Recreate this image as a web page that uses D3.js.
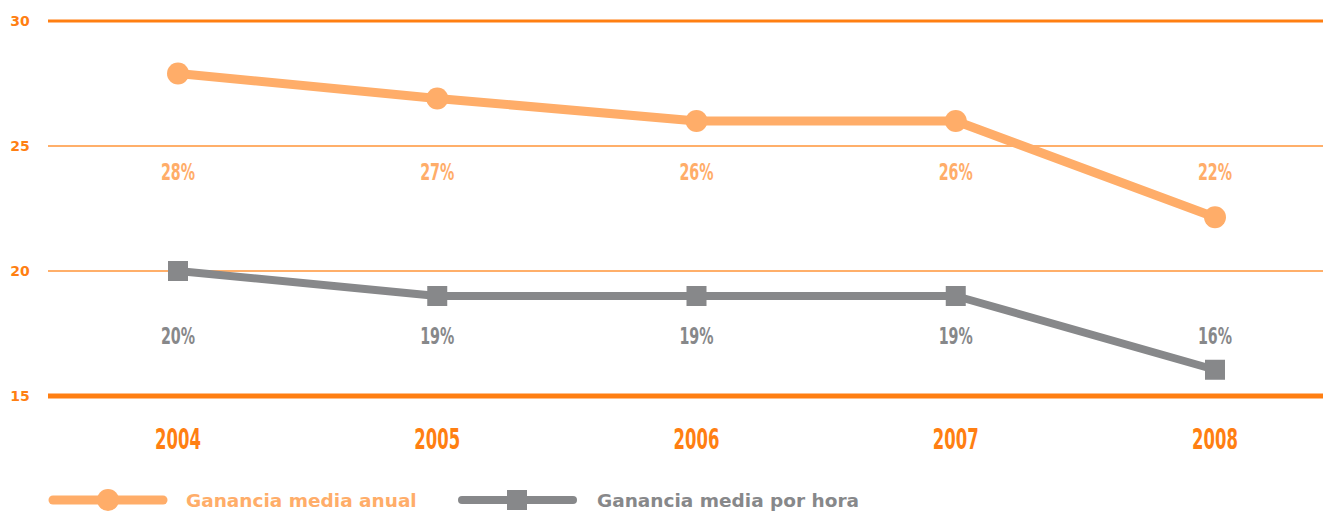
<!DOCTYPE html>
<html>
<head>
<meta charset="utf-8">
<script src="https://cdn.jsdelivr.net/npm/d3@7"></script>
<style>
  body { margin: 0; background: #fff; }
  svg { display: block; }
</style>
</head>
<body>
<div id="main"></div>
<script>
const years = ["2004", "2005", "2006", "2007", "2008"];
const anual = [27.9, 26.9, 26, 26, 22.15];
const porHora = [20, 19, 19, 19, 16.05];
const anualLabels = ["28%", "27%", "26%", "26%", "22%"];
const horaLabels = ["20%", "19%", "19%", "19%", "16%"];
const yTicks = [15, 20, 25, 30];
const seriesNames = ["Ganancia media anual", "Ganancia media por hora"];

const width = 1323, height = 513;
const orange = "#ffad69", gray = "#87888a", axisOrange = "#ff7f12";
const numFont = "'DejaVu Sans Condensed', 'DejaVu Sans', sans-serif";
const textFont = "'DejaVu Sans', sans-serif";

const svg = d3.select("#main").append("svg")
  .attr("width", width)
  .attr("height", height);

const x = d3.scalePoint().domain(years).range([178, 1215]);
const y = d3.scaleLinear().domain([15, 30]).range([396, 21]);

// condensed numbers: squeeze horizontally around anchor
function narrow(sel, sx) {
  sel.attr("transform", function() {
    var ax = +d3.select(this).attr("x"), ay = +d3.select(this).attr("y");
    return "translate(" + ax + "," + ay + ") scale(" + sx + ",1) translate(" + -ax + "," + -ay + ")";
  });
}

// gridlines
svg.selectAll("line.grid")
  .data(yTicks)
  .enter()
  .append("line")
  .attr("x1", 48).attr("x2", width)
  .attr("y1", d => y(d)).attr("y2", d => y(d))
  .style("stroke", d => d === 15 || d === 30 ? axisOrange : "#ff9538")
  .style("stroke-width", d => d === 15 ? 5 : d === 30 ? 3 : 1.5);

svg.selectAll("text.ytick")
  .data(yTicks)
  .enter()
  .append("text")
  .attr("x", 20)
  .attr("y", d => y(d) + 5)
  .style("text-anchor", "middle")
  .style("fill", axisOrange)
  .style("font-family", textFont)
  .style("font-weight", "bold")
  .style("font-size", "14px")
  .text(d => d);

// year labels
svg.selectAll("text.year")
  .data(years)
  .enter()
  .append("text")
  .attr("x", d => x(d))
  .attr("y", 449)
  .style("text-anchor", "middle")
  .style("fill", axisOrange)
  .style("font-family", numFont)
  .style("font-weight", "bold")
  .style("font-size", "27.5px")
  .text(d => d)
  .call(narrow, 0.665);

const line = d3.line().x(d => x(d.year)).y(d => y(d.v));
const anualData = years.map((yr, i) => ({ year: yr, v: anual[i], label: anualLabels[i] }));
const horaData = years.map((yr, i) => ({ year: yr, v: porHora[i], label: horaLabels[i] }));

svg.append("path")
  .datum(anualData)
  .attr("d", line)
  .style("fill", "none")
  .style("stroke", orange)
  .style("stroke-width", 9)
  .style("stroke-linejoin", "round");

svg.selectAll("circle.pt")
  .data(anualData)
  .enter()
  .append("circle")
  .attr("cx", d => x(d.year))
  .attr("cy", d => y(d.v))
  .attr("r", 11)
  .style("fill", orange);

svg.append("path")
  .datum(horaData)
  .attr("d", line)
  .style("fill", "none")
  .style("stroke", gray)
  .style("stroke-width", 8)
  .style("stroke-linejoin", "round");

svg.selectAll("rect.pt")
  .data(horaData)
  .enter()
  .append("rect")
  .attr("x", d => x(d.year) - 10)
  .attr("y", d => y(d.v) - 10)
  .attr("width", 20)
  .attr("height", 20)
  .style("fill", gray);

// value labels
svg.selectAll("text.anual")
  .data(anualData)
  .enter()
  .append("text")
  .attr("x", d => x(d.year))
  .attr("y", y(24) + 9)
  .style("text-anchor", "middle")
  .style("fill", orange)
  .style("font-family", numFont)
  .style("font-weight", "bold")
  .style("font-size", "23px")
  .text(d => d.label)
  .call(narrow, 0.69);

svg.selectAll("text.hora")
  .data(horaData)
  .enter()
  .append("text")
  .attr("x", d => x(d.year))
  .attr("y", y(17.45) + 9)
  .style("text-anchor", "middle")
  .style("fill", gray)
  .style("font-family", numFont)
  .style("font-weight", "bold")
  .style("font-size", "23px")
  .text(d => d.label)
  .call(narrow, 0.69);

// legend
var leg = svg.append("g").attr("transform", "translate(0,500)");
leg.append("line").attr("x1", 53).attr("x2", 163).attr("y1", 0).attr("y2", 0)
  .style("stroke", orange).style("stroke-width", 9).style("stroke-linecap", "round");
leg.append("circle").attr("cx", 108).attr("cy", 0).attr("r", 11).style("fill", orange);
leg.append("text").attr("x", 186).attr("y", 7)
  .style("fill", orange).style("font-family", textFont).style("font-weight", "bold")
  .style("font-size", "18.5px").text(seriesNames[0]);

leg.append("line").attr("x1", 462).attr("x2", 573).attr("y1", 0).attr("y2", 0)
  .style("stroke", gray).style("stroke-width", 8).style("stroke-linecap", "round");
leg.append("rect").attr("x", 507).attr("y", -10).attr("width", 20).attr("height", 20).style("fill", gray);
leg.append("text").attr("x", 597).attr("y", 7)
  .style("fill", gray).style("font-family", textFont).style("font-weight", "bold")
  .style("font-size", "18.5px").text(seriesNames[1]);
</script>
</body>
</html>
